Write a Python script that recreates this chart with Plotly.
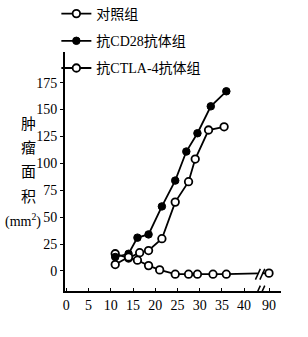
import plotly.graph_objects as go

# ---- data ----
ctrl_name = "对照组"
ctrl_days = [11, 14, 16.5, 18.5, 21.5, 24.5, 27.5, 29, 32, 35.5]
ctrl_vals = [16, 12, 17, 19, 30, 64, 83, 104, 131, 134]

cd28_name = "抗CD28抗体组"
cd28_days = [11, 14, 16, 18.5, 21.5, 24.5, 27, 29.5, 32.5, 36]
cd28_vals = [13, 16, 31, 34, 60, 84, 111, 128, 153, 167]

ctla_name = "抗CTLA-4抗体组"
ctla_days = [11, 14, 16, 18.5, 21, 24.5, 27.5, 29.5, 33, 36, 90]
ctla_vals = [6, 13, 10, 5, 1, -3, -3, -3, -3, -3, -2]

x_ticks = [0, 5, 10, 15, 20, 25, 30, 35, 40, 90]
y_ticks = [0, 25, 50, 75, 100, 125, 150, 175]

y_title_lines = ["肿", "瘤", "面", "积", "(mm<sup>2</sup>)"]

BREAK_AT = 40       # days beyond this are drawn after the axis break
BREAK_POS = 45.6    # axis position used for day 90


def pos(d):
    return d if d <= BREAK_AT else BREAK_POS - (90 - d)


serif = "Times New Roman, Liberation Serif, Noto Sans CJK SC, serif"

fig = go.Figure()

fig.add_trace(go.Scatter(
    x=[pos(d) for d in ctrl_days], y=ctrl_vals, name=ctrl_name, legendgroup="a",
    mode="lines+markers", line=dict(color="black", width=1.8),
    marker=dict(symbol="circle", size=7.5, color="white", line=dict(color="black", width=1.8)),
))
fig.add_trace(go.Scatter(
    x=[pos(d) for d in cd28_days], y=cd28_vals, name=cd28_name, legendgroup="b",
    mode="lines+markers", line=dict(color="black", width=1.8),
    marker=dict(symbol="circle", size=7.5, color="black", line=dict(color="black", width=1)),
))
fig.add_trace(go.Scatter(
    x=[pos(d) for d in ctla_days], y=ctla_vals, name=ctla_name, legendgroup="c",
    mode="lines+markers", line=dict(color="black", width=1.8),
    marker=dict(symbol="circle", size=7.5, color="white", line=dict(color="black", width=1.8)),
))

# axis break marks: on the data line and on the x axis
shapes = []
for yc in (-3, -18.6):
    shapes.append(dict(type="rect", xref="x", yref="y", x0=43.1, x1=44.1,
                       y0=yc - 2.2, y1=yc + 2.2, fillcolor="white", line=dict(width=0),
                       layer="above"))
    for xc in (43.1, 44.1):
        shapes.append(dict(type="line", xref="x", yref="y", x0=xc - 0.55, x1=xc + 0.55,
                           y0=yc - 5, y1=yc + 5, line=dict(color="black", width=1.5),
                           layer="above"))

fig.update_layout(
    width=308, height=337,
    margin=dict(l=65, r=27, t=52, b=46, autoexpand=False),
    paper_bgcolor="white", plot_bgcolor="white",
    showlegend=True,
    legend=dict(x=-0.04, y=1 + 54 / 239, xanchor="left", yanchor="top",
                font=dict(family=serif, size=14, color="black"),
                tracegroupgap=6, bgcolor="rgba(0,0,0,0)", itemwidth=30),
    shapes=shapes,
    font=dict(family=serif, color="black"),
)

fig.update_xaxes(
    range=[-0.3, 48.3], showgrid=False, zeroline=False,
    showline=True, linecolor="black", linewidth=2,
    tickmode="array", tickvals=[pos(t) for t in x_ticks], ticktext=[str(t) for t in x_ticks],
    ticks="inside", ticklen=3, tickcolor="black",
    tickfont=dict(family=serif, size=14, color="black"),
)
fig.update_yaxes(
    range=[-18.6, 203.5], showgrid=False, zeroline=False,
    showline=True, linecolor="black", linewidth=2,
    tickmode="array", tickvals=y_ticks, ticktext=[str(t) for t in y_ticks],
    ticks="outside", ticklen=3, tickcolor="black",
    tickfont=dict(family=serif, size=14, color="black"),
)

# vertical stacked y-axis title, one line per annotation (pixel rows 124..220)
title_rows = [124, 148, 172, 197, 220]
title_cols = [28, 28, 28, 28, 23]
title_sizes = [15, 15, 15, 15, 14]
for txt, py, px, fs in zip(y_title_lines, title_rows, title_cols, title_sizes):
    fig.add_annotation(
        xref="paper", yref="paper", x=(px - 65) / 216, y=1 - (py - 52) / 239,
        xanchor="center", yanchor="middle", text=txt, showarrow=False,
        font=dict(family=serif, size=fs, color="black"),
    )

fig.write_html("out.html")
